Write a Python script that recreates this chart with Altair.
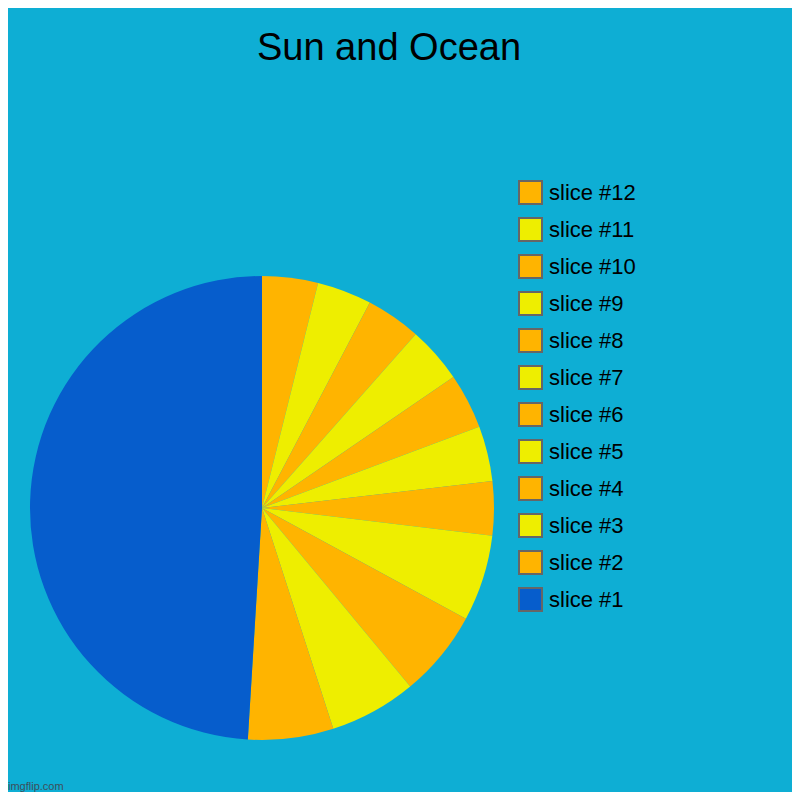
import altair as alt
import pandas as pd

labels = ["slice #12", "slice #11", "slice #10", "slice #9", "slice #8", "slice #7",
          "slice #6", "slice #5", "slice #4", "slice #3", "slice #2", "slice #1"]
values = [14.0, 13.7, 13.8, 14.1, 13.9, 13.8, 13.6, 21.6, 21.8, 21.8, 21.4, 176.5]
colors = ["#ffb400", "#eeee00", "#ffb400", "#eeee00", "#ffb400", "#eeee00",
          "#ffb400", "#eeee00", "#ffb400", "#eeee00", "#ffb400", "#065dcc"]

df = pd.DataFrame({"label": labels, "value": values, "ord": list(range(len(labels)))})

FONT = "Liberation Sans"

pie = alt.Chart(df).mark_arc(radius=232, strokeWidth=0).encode(
    theta=alt.Theta("value:Q", stack=True),
    order=alt.Order("ord:Q"),
    color=alt.Color(
        "label:N",
        scale=alt.Scale(domain=labels, range=colors),
        legend=alt.Legend(
            title=None, orient="none", legendX=510, legendY=92,
            symbolType="square", symbolSize=529, symbolStrokeColor="#666666",
            symbolStrokeWidth=2, symbolOpacity=1,
            labelFontSize=22, labelFont=FONT, labelColor="#000000",
            rowPadding=6, padding=0, labelOffset=6,
        ),
    ),
    x=alt.value(254),
    y=alt.value(420),
)

wm = alt.Chart(pd.DataFrame({"t": ["imgflip.com"]})).mark_text(
    align="left", baseline="bottom", fontSize=11, font=FONT, color="#3d4f5a"
).encode(text="t:N", x=alt.value(0), y=alt.value(704))

chart = alt.layer(pie, wm).properties(
    width=784, height=704,
    padding={"left": 0, "top": 80, "right": 0, "bottom": 0},
    autosize=alt.AutoSizeParams(type="none"),
    background="#0eaed4",
    title=alt.Title("Sun and Ocean", fontSize=38, font=FONT, fontWeight="normal",
                    color="#000000", anchor="middle", dx=-11, offset=20),
).configure_view(stroke=None)

chart.save("out.html", embed_options={"renderer": "svg", "actions": False})
